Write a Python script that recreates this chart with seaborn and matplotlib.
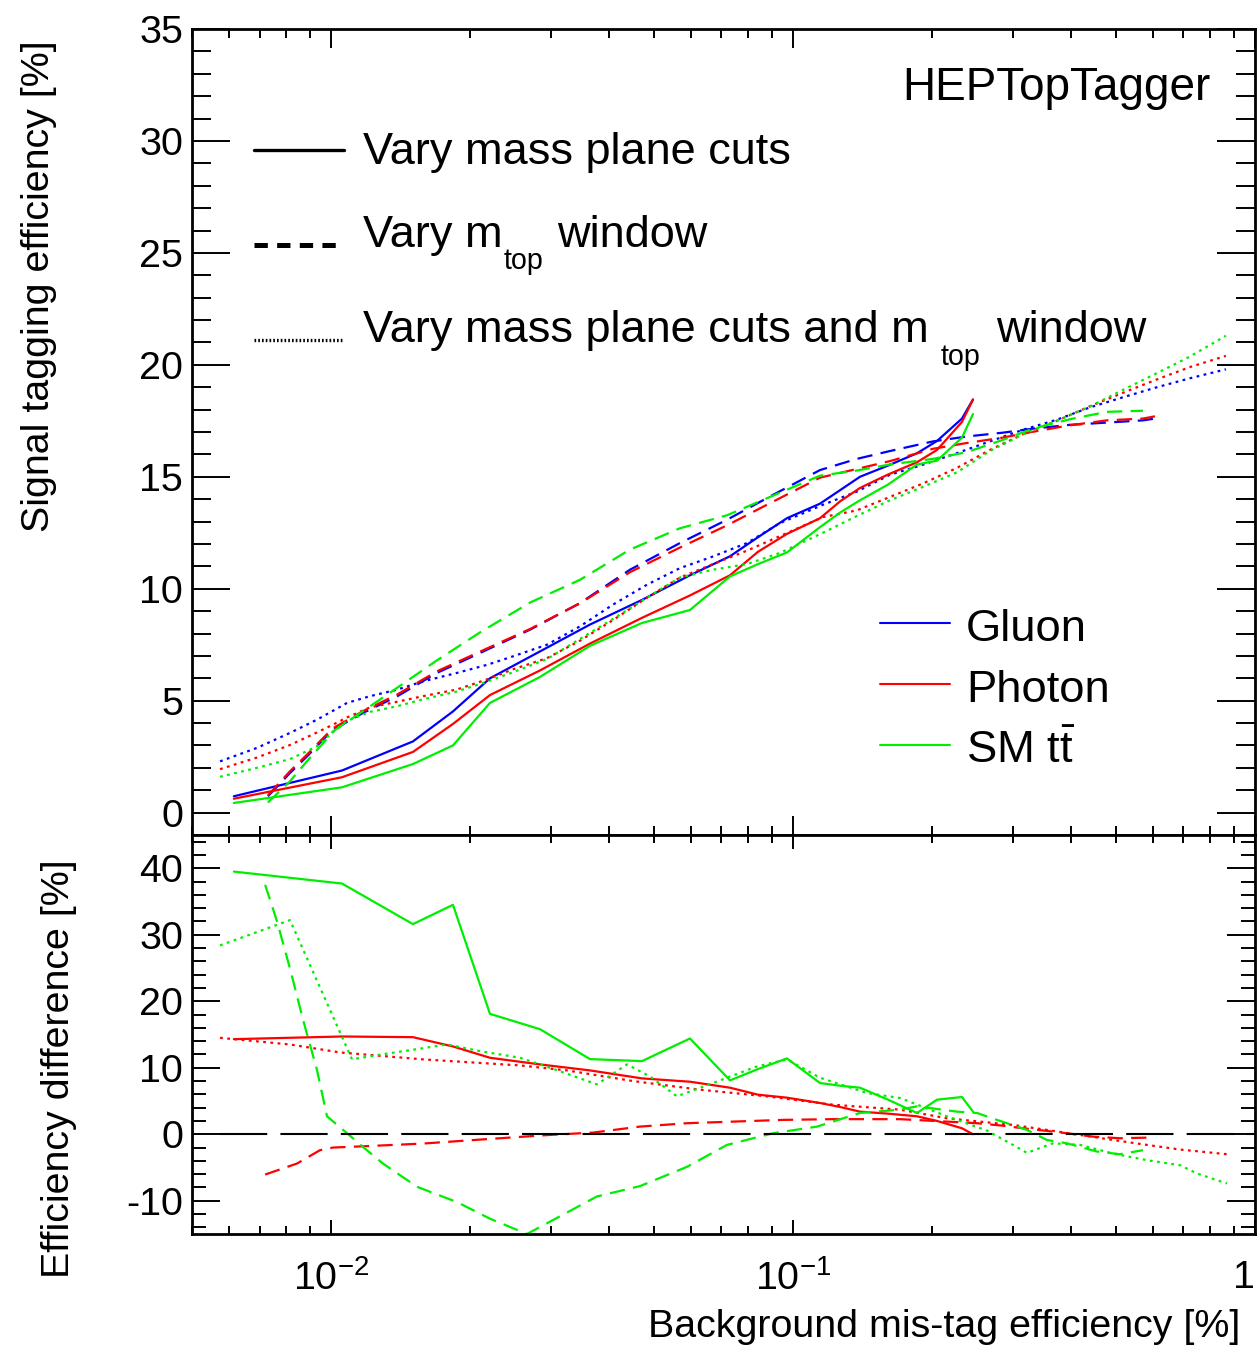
import numpy as np
import pandas as pd
import matplotlib
matplotlib.use("Agg")
import matplotlib.pyplot as plt
import seaborn as sns
from matplotlib.lines import Line2D
from matplotlib.ticker import FixedLocator, FixedFormatter, MultipleLocator, NullFormatter

# ---------------- data ----------------
# x values: background mis-tag efficiency [%]
solid_x = [0.00616, 0.01056, 0.01504, 0.01836, 0.02208, 0.02833, 0.03635, 0.04710, 0.05983, 0.07304,
           0.08397, 0.09702, 0.1144, 0.1264, 0.1396, 0.1605, 0.1855, 0.2050, 0.2321, 0.2452]
dashed_x = [0.00730, 0.00815, 0.00887, 0.00961, 0.01010, 0.01172, 0.01389, 0.01695, 0.02101, 0.02695,
            0.03459, 0.04437, 0.05692, 0.07196, 0.08914, 0.1144, 0.1375, 0.1621, 0.2009, 0.2379,
            0.2847, 0.3306, 0.3975, 0.4781, 0.5721, 0.6074]
dashed_x_green = [0.00730, 0.00815, 0.00887, 0.00961, 0.01010, 0.01172, 0.01389, 0.01695, 0.02101, 0.02695,
                  0.03459, 0.04437, 0.05692, 0.07196, 0.08914, 0.1144, 0.1375, 0.1621, 0.2009, 0.2379,
                  0.2847, 0.3306, 0.3975, 0.4781, 0.5721]
dotted_x = [0.00575, 0.00691, 0.00815, 0.00932, 0.01010, 0.01083, 0.01214, 0.01389, 0.01581, 0.01873,
            0.02176, 0.02476, 0.02934, 0.03459, 0.04076, 0.04829, 0.05692, 0.06709, 0.07949, 0.09369,
            0.1161, 0.1375, 0.1621, 0.1911, 0.2265, 0.2668, 0.3146, 0.3726, 0.4392, 0.5177,
            0.6135, 0.7230, 0.8650]

# top panel: signal tagging efficiency [%]
gluon_solid = [0.73, 1.88, 3.18, 4.52, 6.0, 7.2, 8.4, 9.5, 10.6, 11.45, 12.3, 13.15, 13.8, 14.4, 15.0,
               15.5, 16.05, 16.6, 17.6, 18.45]
photon_solid = [0.62, 1.58, 2.71, 3.96, 5.25, 6.35, 7.55, 8.7, 9.7, 10.6, 11.65, 12.45, 13.15, 13.9, 14.5,
                15.1, 15.65, 16.2, 17.45, 18.45]
ttbar_solid = [0.43, 1.13, 2.17, 3.0, 4.9, 6.06, 7.45, 8.47, 9.05, 10.55, 11.1, 11.62, 12.75, 13.4, 13.95,
               14.65, 15.55, 15.72, 16.75, 17.8]

gluon_dashed = [0.73, 1.77, 2.51, 3.26, 3.7, 4.45, 5.19, 6.24, 7.13, 8.17, 9.36, 10.85, 12.04, 13.08, 14.12,
                15.3, 15.8, 16.15, 16.58, 16.8, 16.97, 17.15, 17.32, 17.42, 17.52, 17.6]
photon_dashed = [0.77, 1.85, 2.59, 3.33, 3.77, 4.53, 5.27, 6.31, 7.19, 8.2, 9.35, 10.74, 11.84, 12.83, 13.82,
                 14.96, 15.35, 15.7, 16.25, 16.51, 16.75, 17.01, 17.3, 17.52, 17.6, 17.7]
ttbar_dashed = [0.45, 1.4, 2.3, 3.1, 3.63, 4.53, 5.57, 6.8, 8.05, 9.38, 10.4, 11.75, 12.7, 13.28, 14.1,
                15.05, 15.28, 15.55, 15.8, 16.1, 16.65, 17.15, 17.57, 17.9, 17.95]

gluon_dotted = [2.29, 2.89, 3.56, 4.15, 4.55, 4.9, 5.2, 5.49, 5.86, 6.24, 6.6, 6.98, 7.5, 8.32, 9.29,
                10.18, 10.92, 11.44, 12.04, 12.93, 13.75, 14.34, 15.09, 15.54, 16.06, 16.58, 17.1, 17.55,
                18.1, 18.55, 19.0, 19.4, 19.8]
photon_dotted = [1.94, 2.46, 3.02, 3.58, 3.93, 4.25, 4.7, 4.95, 5.2, 5.5, 5.95, 6.4, 6.9, 7.68, 8.6,
                 9.6, 10.5, 11.1, 11.7, 12.35, 13.2, 13.5, 14.1, 14.7, 15.4, 16.2, 16.9, 17.5,
                 18.15, 18.75, 19.35, 19.9, 20.4]
ttbar_dotted = [1.6, 2.0, 2.39, 2.96, 3.6, 4.1, 4.5, 4.75, 5.06, 5.41, 5.85, 6.27, 6.86, 7.76, 8.65,
                9.6, 10.5, 10.85, 11.1, 11.6, 12.5, 13.25, 13.95, 14.55, 15.2, 16.15, 16.9, 17.5,
                18.14, 18.88, 19.63, 20.37, 21.3]

# bottom panel: efficiency difference [%]
photon_solid_diff = [14.3, 14.7, 14.6, 13.2, 11.5, 10.5, 9.6, 8.4, 7.9, 7.0, 5.95, 5.5, 4.7, 4.1, 3.4,
                     3.1, 2.7, 2.0, 0.9, 0.0]
ttbar_solid_diff = [39.5, 37.7, 31.6, 34.5, 18.1, 15.8, 11.3, 11.0, 14.4, 8.1, 9.8, 11.4, 7.7, 7.3, 7.0,
                    5.2, 3.2, 5.2, 5.6, 3.4]

photon_dashed_diff_x = [0.00720, 0.00844, 0.00946, 0.01010, 0.01184, 0.01581, 0.02208, 0.02978, 0.03690,
                        0.04663, 0.05894, 0.07413, 0.09510, 0.1220, 0.1704, 0.2154, 0.2501, 0.2833,
                        0.3146, 0.3545, 0.3916, 0.4458, 0.5100, 0.5924]
photon_dashed_diff = [-6.06, -4.4, -2.4, -2.0, -1.8, -1.4, -0.7, -0.1, 0.25, 1.15, 1.66, 1.9, 2.16, 2.27,
                      2.27, 1.9, 1.66, 1.3, 0.9, 0.5, 0.15, -0.36, -0.6, -0.5]
ttbar_dashed_diff_x = [0.00720, 0.00764, 0.00815, 0.00869, 0.00932, 0.00980, 0.01083, 0.01172, 0.01295,
                       0.01535, 0.01873, 0.02208, 0.02655, 0.03023, 0.03764, 0.04663, 0.05894, 0.07196,
                       0.09049, 0.1127, 0.1396, 0.1704, 0.1855, 0.2265, 0.2501, 0.2763, 0.3209,
                       0.3545, 0.3916, 0.4548, 0.5100, 0.5721]
ttbar_dashed_diff = [37.5, 32.0, 24.9, 17.3, 9.7, 2.7, 0.15, -1.9, -4.4, -7.9, -10.2, -12.7, -15.0, -12.9,
                     -9.35, -7.8, -4.9, -1.6, 0.15, 1.15, 3.2, 3.7, 4.2, 3.4, 3.2, 2.16, 0.65, -0.86,
                     -1.36, -2.6, -3.0, -2.4]

photon_dotted_diff_x = [0.00575, 0.00815, 0.01046, 0.01581, 0.02564, 0.03241, 0.04503, 0.06289, 0.08782,
                        0.1220, 0.1704, 0.2154, 0.2993, 0.3545, 0.4179, 0.4926, 0.5836, 0.6879, 0.8693]
photon_dotted_diff = [14.5, 13.5, 12.3, 11.26, 10.35, 9.6, 8.0, 6.7, 5.7, 4.44, 3.7, 2.4, 1.4, 0.65,
                      -0.1, -0.86, -1.6, -2.3, -3.0]
ttbar_dotted_diff_x = [0.00575, 0.00815, 0.01110, 0.01257, 0.01535, 0.01782, 0.02101, 0.02564, 0.02978,
                       0.03764, 0.04371, 0.04901, 0.05607, 0.06709, 0.08355, 0.09702, 0.1144, 0.1446,
                       0.1704, 0.1818, 0.2154, 0.2629, 0.2993, 0.3209, 0.3653, 0.4179, 0.4926, 0.5836,
                       0.6879, 0.7487, 0.8693]
ttbar_dotted_diff = [28.4, 32.2, 11.26, 11.9, 12.8, 13.5, 12.5, 11.5, 10.0, 7.5, 10.5, 8.7, 5.7, 7.7,
                     10.2, 11.26, 8.5, 6.2, 5.45, 4.7, 2.7, 0.55, -1.6, -2.8, -1.36, -1.6, -2.9, -3.9,
                     -4.65, -5.9, -7.4]

baseline_x = [0.00575, 1.0]
baseline_y = [0.0, 0.0]

samples = ["Gluon", "Photon", "SM tt"]
methods = ["mass", "window", "both"]
legend_methods = ["Vary mass plane cuts", "Vary m", "Vary mass plane cuts and m"]
xtick_values = [0.01, 0.1, 1.0]
xtick_labels = [r"$\mathregular{10^{-2}}$", r"$\mathregular{10^{-1}}$", "1"]

# ---------------- style ----------------
sns.set_theme(style="white")
plt.rcParams.update({
    "font.family": ["Liberation Sans", "DejaVu Sans"],
    "mathtext.fontset": "custom",
    "mathtext.rm": "Liberation Sans",
    "mathtext.it": "Liberation Sans:italic",
    "mathtext.bf": "Liberation Sans:bold",
    "axes.unicode_minus": False,
    "lines.scale_dashes": False,
    "axes.edgecolor": "black",
    "axes.linewidth": 2.0,
    "xtick.color": "black",
    "ytick.color": "black",
    "text.color": "black",
    "axes.facecolor": "white",
    "figure.facecolor": "white",
})

palette = {"Gluon": "#0000ff", "Photon": "#ff0000", "SM tt": "#00ee00"}
dash_map = {"mass": "", "window": (11, 6), "both": (2.0, 3.2)}


def frame(curves):
    parts = [pd.DataFrame({"x": xs, "y": ys, "sample": s, "method": m}) for s, m, xs, ys in curves]
    return pd.concat(parts, ignore_index=True)


top_df = frame([
    ("Gluon", "mass", solid_x, gluon_solid),
    ("Photon", "mass", solid_x, photon_solid),
    ("SM tt", "mass", solid_x, ttbar_solid),
    ("Gluon", "window", dashed_x, gluon_dashed),
    ("Photon", "window", dashed_x, photon_dashed),
    ("SM tt", "window", dashed_x_green, ttbar_dashed),
    ("Gluon", "both", dotted_x, gluon_dotted),
    ("Photon", "both", dotted_x, photon_dotted),
    ("SM tt", "both", dotted_x, ttbar_dotted),
])
bot_df = frame([
    ("Photon", "mass", solid_x, photon_solid_diff),
    ("SM tt", "mass", solid_x, ttbar_solid_diff),
    ("Photon", "window", photon_dashed_diff_x, photon_dashed_diff),
    ("SM tt", "window", ttbar_dashed_diff_x, ttbar_dashed_diff),
    ("Photon", "both", photon_dotted_diff_x, photon_dotted_diff),
    ("SM tt", "both", ttbar_dotted_diff_x, ttbar_dotted_diff),
])

W, H = 1260, 1347
fig = plt.figure(figsize=(W / 100, H / 100), dpi=100)


def fx(px):
    return px / W


def fy(py):
    return 1 - py / H


ax1 = fig.add_axes([fx(192), fy(835), fx(1255) - fx(192), fy(29) - fy(835)])
ax2 = fig.add_axes([fx(192), fy(1234), fx(1255) - fx(192), fy(835) - fy(1234)])

sns.lineplot(data=top_df, x="x", y="y", hue="sample", style="method", palette=palette,
             dashes=dash_map, estimator=None, sort=False, legend=False, linewidth=1.6, ax=ax1)
sns.lineplot(data=bot_df, x="x", y="y", hue="sample", style="method", palette=palette,
             dashes=dash_map, estimator=None, sort=False, legend=False, linewidth=1.6, ax=ax2)
ax2.plot(baseline_x, baseline_y, color="black", linewidth=1.5, dashes=(34, 9.5))

TS = 28.4
for ax in (ax1, ax2):
    ax.set_xscale("log")
    ax.set_xlim(0.005, 1.0)
    ax.set_xlabel("")
    ax.set_ylabel("")
    ax.grid(False)
    for sp in ax.spines.values():
        sp.set_visible(True)
        sp.set_color("black")
        sp.set_linewidth(2.0)
    ax.xaxis.set_major_locator(FixedLocator(xtick_values))
    minors = [m * 10.0 ** e for e in (-3, -2, -1) for m in range(2, 10)]
    ax.xaxis.set_minor_locator(FixedLocator(minors))
    ax.xaxis.set_minor_formatter(NullFormatter())
    ax.tick_params(which="both", direction="in", top=True, right=True, bottom=True, left=True,
                   width=1.4, colors="black", labelsize=TS)

ax1.set_ylim(-1, 35)
ax1.yaxis.set_major_locator(MultipleLocator(5))
ax1.yaxis.set_minor_locator(MultipleLocator(1))
ax1.tick_params(axis="y", which="major", length=27.4, pad=6.5)
ax1.tick_params(axis="y", which="minor", length=13.7)
ax1.tick_params(axis="x", which="major", length=13.7)
ax1.tick_params(axis="x", which="minor", length=6.8)
ax1.tick_params(axis="x", labelbottom=False)

ax2.set_ylim(-15, 45)
ax2.yaxis.set_major_locator(FixedLocator([-10, 0, 10, 20, 30, 40]))
ax2.yaxis.set_minor_locator(MultipleLocator(2))
ax2.tick_params(axis="y", which="major", length=20, pad=6.5)
ax2.tick_params(axis="y", which="minor", length=10)
ax2.tick_params(axis="x", which="major", length=10, pad=19)
ax2.tick_params(axis="x", which="minor", length=5.5)
ax2.xaxis.set_major_formatter(FixedFormatter(xtick_labels))

# axis titles
fig.text(fx(39), fy(286), "Signal tagging efficiency [%]", rotation=90, ha="center", va="center", fontsize=TS)
fig.text(fx(59), fy(1069), "Efficiency difference [%]", rotation=90, ha="center", va="center", fontsize=TS)
fig.text(fx(1240), fy(1337), "Background mis-tag efficiency [%]", ha="right", va="baseline", fontsize=TS)

# legend for line styles
LS = 32.5
fig.add_artist(Line2D([fx(254), fx(344)], [fy(150), fy(150)], transform=fig.transFigure,
                      color="black", linewidth=2.4))
fig.add_artist(Line2D([fx(254), fx(340)], [fy(245), fy(245)], transform=fig.transFigure,
                      color="black", linewidth=3.6, dashes=(9.6, 6.7)))
fig.add_artist(Line2D([fx(254), fx(344)], [fy(340), fy(340)], transform=fig.transFigure,
                      color="black", linewidth=2.4, dashes=(1.2, 1.5)))
fig.text(fx(363), fy(164), legend_methods[0], fontsize=LS, ha="left", va="baseline")
fig.text(fx(363), fy(247), legend_methods[1], fontsize=LS, ha="left", va="baseline")
fig.text(fx(504), fy(269), "top", fontsize=20.7, ha="left", va="baseline")
fig.text(fx(557), fy(247), "window", fontsize=LS, ha="left", va="baseline")
fig.text(fx(363), fy(342), legend_methods[2], fontsize=LS, ha="left", va="baseline")
fig.text(fx(941), fy(365), "top", fontsize=20.7, ha="left", va="baseline")
fig.text(fx(996), fy(342), "window", fontsize=LS, ha="left", va="baseline")

fig.text(fx(1210), fy(100), "HEPTopTagger", fontsize=33, ha="right", va="baseline")

# legend for samples
labels = ["Gluon", "Photon", r"SM t$\mathregular{\bar{t}}$"]
for i, s in enumerate(samples):
    yl = 623 + 61 * i
    fig.add_artist(Line2D([fx(880), fx(950)], [fy(yl), fy(yl)], transform=fig.transFigure,
                          color=palette[s], linewidth=1.5))
    fig.text(fx(966), fy(641 + 61 * i), labels[i], fontsize=32.7, ha="left", va="baseline")

# keep the last x tick label ("1") inside the figure edge
fig.canvas.draw()
last_tick = ax2.xaxis.get_major_ticks()[-1]
last_tick.label1.set_horizontalalignment("right")
last_tick.label1.set_x(1.0)

fig.savefig("out.png", dpi=100)
